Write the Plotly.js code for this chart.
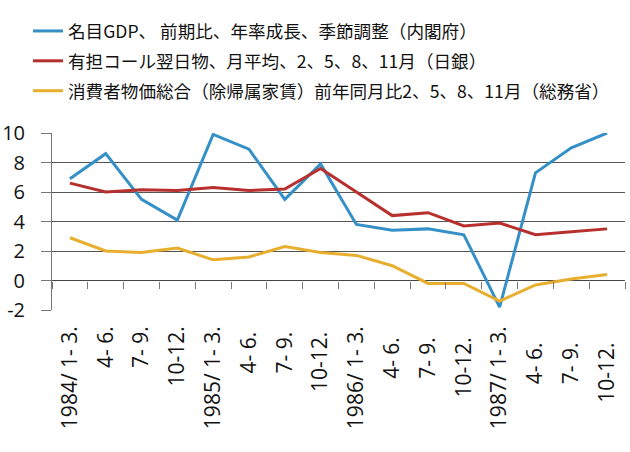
<!DOCTYPE html>
<html>
<head>
<meta charset="utf-8">
<script src="https://cdn.plot.ly/plotly-3.0.1.min.js"></script>
<style>html,body{margin:0;padding:0;background:#fff;}#chart{width:630px;height:452px;}</style>
</head>
<body>
<div id="chart"></div>
<script>
const categories = ["1984/ 1- 3.","4- 6.","7- 9.","10-12.","1985/ 1- 3.","4- 6. ","7- 9. ","10-12. ","1986/ 1- 3.","4- 6.  ","7- 9.  ","10-12.  ","1987/ 1- 3.","4- 6.   ","7- 9.   ","10-12.   "];
const gdp  = [6.9, 8.6, 5.5, 4.1, 9.9, 8.9, 5.5, 7.9, 3.8, 3.4, 3.5, 3.1, -1.8, 7.3, 9.0, 10.0];
const call = [6.6, 6.0, 6.15, 6.1, 6.3, 6.1, 6.2, 7.6, 6.0, 4.4, 4.6, 3.7, 3.9, 3.1, 3.3, 3.5];
const cpi  = [2.9, 2.0, 1.9, 2.2, 1.4, 1.6, 2.3, 1.9, 1.7, 1.0, -0.2, -0.2, -1.4, -0.3, 0.1, 0.4];
const names = [
  "名目GDP、 前期比、年率成長、季節調整（内閣府）",
  "有担コール翌日物、月平均、2、5、8、11月（日銀）",
  "消費者物価総合（除帰属家賃）前年同月比2、5、8、11月（総務省）"
];
const yTicks = [-2, 0, 2, 4, 6, 8, 10];

const colors = ["#3490c6", "#b8302d", "#e8ae2e"];
const series = [gdp, call, cpi];
const traces = series.map((s, i) => ({
  type: "scatter", mode: "lines", x: categories, y: s, name: names[i],
  legendgroup: "g" + i,
  line: {color: colors[i], width: 3}, hoverinfo: "skip"
}));
traces.push({
  type: "scatter", mode: "lines", x: categories, y: categories.map(() => null),
  xaxis: "x2", yaxis: "y", showlegend: false, hoverinfo: "skip"
});

const layout = {
  width: 630, height: 452,
  margin: {l: 52, r: 5, t: 133, b: 142, autoexpand: false},
  paper_bgcolor: "#fff", plot_bgcolor: "#fff",
  font: {family: "Noto Sans CJK JP, sans-serif", color: "#111"},
  showlegend: true,
  legend: {
    x: 28 / 630, y: 1 - 13 / 452, xref: "container", yref: "container",
    xanchor: "left", yanchor: "top",
    font: {size: 17.6, family: "Noto Sans CJK JP", color: "#111"},
    traceorder: "grouped", tracegroupgap: 4, itemwidth: 30,
    bgcolor: "rgba(0,0,0,0)"
  },
  xaxis: {
    type: "category", categoryorder: "array", categoryarray: categories,
    range: [-0.5, 15.5], tickmode: "linear", tick0: 0, dtick: 1,
    showgrid: false, zeroline: false, showline: false,
    ticks: "", tickangle: -90, ticklabelstandoff: 11,
    tickfont: {size: 21, family: "Open Sans", color: "#111"}, fixedrange: true
  },
  xaxis2: {
    type: "category", categoryorder: "array", categoryarray: categories,
    range: [-0.5, 15.5], overlaying: "x", anchor: "free", position: 1/6,
    side: "bottom", showgrid: false, zeroline: false, showline: false,
    showticklabels: false, ticks: "outside", tickson: "boundaries",
    ticklen: 7, tickcolor: "#777", tickwidth: 1, fixedrange: true
  },
  yaxis: {
    range: [-2, 10], tickvals: yTicks, ticktext: yTicks.map(String),
    showgrid: true, gridcolor: "#555", gridwidth: 1,
    zeroline: true, zerolinecolor: "#444", zerolinewidth: 1,
    showline: true, linecolor: "#777", linewidth: 1,
    ticks: "outside", ticklen: 10, tickcolor: "#777", ticklabelstandoff: 12,
    tickfont: {size: 20, family: "Open Sans", color: "#111"}, fixedrange: true
  }
};
Plotly.newPlot("chart", traces, layout, {displayModeBar: false, staticPlot: true});
</script>
</body>
</html>
